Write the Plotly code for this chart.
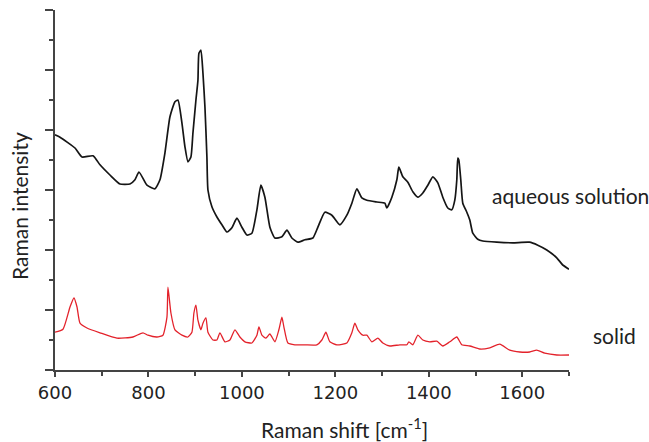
import plotly.graph_objects as go

# Aqueous solution spectrum (black)
aq_shift = [600, 610.7, 642.8, 657.8, 681.3, 696.3, 717.6, 739.0, 760.4, 771.1, 779.7, 796.8,
            813.9, 824.6, 835.3, 846.0, 856.7, 863.1, 871.6, 878.1, 884.5, 890.9, 895.2, 901.6,
            905.9, 908.0, 912.3, 916.6, 920.9, 925.1, 927.3, 935.8, 946.5, 957.2, 967.9, 978.6,
            989.3, 1000.0, 1010.7, 1021.4, 1032.1, 1040.6, 1049.2, 1059.9, 1070.6, 1085.6, 1096.3,
            1106.9, 1119.8, 1134.8, 1151.9, 1162.6, 1177.5, 1192.5, 1209.6, 1224.6, 1235.3, 1246.0,
            1256.7, 1267.4, 1288.8, 1305.9, 1310.2, 1320.9, 1331.6, 1335.8, 1344.4, 1355.1, 1365.8,
            1376.5, 1387.2, 1397.9, 1408.6, 1419.3, 1429.9, 1440.6, 1449.2, 1455.6, 1459.9, 1462.0,
            1464.2, 1468.4, 1472.7, 1481.3, 1487.7, 1494.1, 1504.8, 1515.5, 1545.5, 1579.7, 1615.3,
            1633.2, 1652.4, 1673.8, 1686.6, 1700]
aq_int = [3.92, 3.88, 3.70, 3.55, 3.57, 3.42, 3.25, 3.10, 3.10, 3.17, 3.30, 3.08,
          3.02, 3.17, 3.62, 4.22, 4.47, 4.50, 4.12, 3.72, 3.47, 3.55, 3.95, 4.50,
          4.83, 5.28, 5.33, 4.95, 4.38, 3.55, 3.00, 2.72, 2.55, 2.42, 2.30, 2.37,
          2.53, 2.38, 2.25, 2.28, 2.67, 3.08, 2.88, 2.38, 2.20, 2.22, 2.33,
          2.20, 2.13, 2.17, 2.20, 2.38, 2.63, 2.58, 2.42, 2.58, 2.78, 3.02,
          2.87, 2.83, 2.80, 2.78, 2.70, 2.88, 3.17, 3.38, 3.22, 3.13, 2.97,
          2.88, 2.95, 3.08, 3.22, 3.12, 2.88, 2.70, 2.67, 2.83, 3.17, 3.53,
          3.50, 3.17, 2.78, 2.63, 2.50, 2.28, 2.18, 2.15, 2.13, 2.12, 2.13,
          2.08, 2.00, 1.87, 1.75, 1.68]

# Solid spectrum (red)
solid_shift = [600, 617.1, 632.1, 640.6, 647.1, 653.5, 668.4, 696.3, 732.6, 766.8, 788.2, 798.9,
               818.2, 831.0, 839.6, 841.7, 848.1, 856.7, 871.7, 884.5, 893.0, 897.3, 901.6, 905.9,
               912.3, 916.6, 923.0, 927.3, 938.0, 946.5, 952.9, 963.6, 974.3, 985.0, 995.7, 1006.4,
               1021.4, 1032.1, 1036.4, 1042.8, 1051.3, 1059.9, 1070.6, 1079.1, 1085.6, 1089.8, 1098.4,
               1113.4, 1134.8, 1160.4, 1171.1, 1179.7, 1188.2, 1203.2, 1224.6, 1235.3, 1241.7, 1248.1,
               1258.8, 1267.4, 1278.1, 1290.9, 1301.6, 1316.6, 1338.0, 1353.0, 1357.3, 1365.8, 1376.5,
               1387.2, 1402.1, 1417.1, 1429.9, 1444.9, 1459.9, 1470.6, 1487.7, 1509.1, 1530.5, 1551.9,
               1573.3, 1594.7, 1616.0, 1631.0, 1648.1, 1673.8, 1700]
solid_int = [0.63, 0.68, 1.05, 1.20, 1.05, 0.78, 0.70, 0.62, 0.53, 0.55, 0.62, 0.58,
             0.55, 0.58, 0.88, 1.38, 0.95, 0.67, 0.58, 0.55, 0.63, 0.95, 1.08, 0.83,
             0.67, 0.78, 0.87, 0.63, 0.50, 0.50, 0.62, 0.47, 0.50, 0.67, 0.55, 0.47,
             0.45, 0.58, 0.72, 0.58, 0.53, 0.60, 0.47, 0.67, 0.88, 0.72, 0.45,
             0.42, 0.42, 0.42, 0.50, 0.63, 0.47, 0.42, 0.45, 0.62, 0.78, 0.67,
             0.58, 0.58, 0.47, 0.53, 0.45, 0.40, 0.42, 0.42, 0.47, 0.42, 0.58,
             0.50, 0.47, 0.48, 0.40, 0.47, 0.55, 0.42, 0.40, 0.35, 0.37, 0.43,
             0.33, 0.30, 0.30, 0.33, 0.28, 0.25, 0.25]

x_ticks = [600, 800, 1000, 1200, 1400, 1600]
x_tick_labels = ["600", "800", "1000", "1200", "1400", "1600"]

fig = go.Figure()
fig.add_trace(go.Scatter(x=aq_shift, y=aq_int, mode="lines",
                         line=dict(color="#151515", width=1.7, shape="spline", smoothing=0.5),
                         showlegend=False))
fig.add_trace(go.Scatter(x=solid_shift, y=solid_int, mode="lines",
                         line=dict(color="#e3222b", width=1.3, shape="spline", smoothing=0.5),
                         showlegend=False))

label_font = dict(family="Lato, Open Sans, sans-serif", size=21, color="#222")

fig.add_annotation(text="aqueous solution", xref="paper", yref="paper", x=0.846, y=0.486,
                   xanchor="left", yanchor="middle", showarrow=False, font=label_font)
fig.add_annotation(text="solid", xref="paper", yref="paper", x=1.043, y=0.097,
                   xanchor="left", yanchor="middle", showarrow=False, font=label_font)
fig.add_annotation(text="Raman intensity", xref="paper", yref="paper", x=-0.068, y=0.456,
                   xanchor="center", yanchor="middle", textangle=-90, showarrow=False,
                   font=label_font)
fig.add_annotation(text="Raman shift [cm<sup>-1</sup>]", xref="paper", yref="paper",
                   x=0.564, y=-0.16, xanchor="center", yanchor="middle", showarrow=False,
                   font=label_font)

fig.update_xaxes(range=[600, 1700], tickvals=x_ticks, ticktext=x_tick_labels,
                 showline=True, linecolor="#444", linewidth=2, ticks="outside", ticklen=5,
                 tickwidth=1.5, tickcolor="#444", showgrid=False, zeroline=False,
                 tickfont=dict(family="DejaVu Sans, sans-serif", size=18, color="#222"),
                 minor=dict(dtick=100, ticks="outside", ticklen=4, tickcolor="#444", tickwidth=1.5,
                            showgrid=False))
fig.update_yaxes(range=[0, 6], dtick=1, showticklabels=False,
                 showline=True, linecolor="#444", linewidth=2, ticks="outside", ticklen=8,
                 tickwidth=1.5, tickcolor="#444", showgrid=False, zeroline=False,
                 minor=dict(dtick=0.5, ticks="outside", ticklen=4, tickcolor="#444", tickwidth=1.5,
                            showgrid=False))

fig.update_layout(width=649, height=442, margin=dict(l=55, r=80, t=10, b=72),
                  plot_bgcolor="white", paper_bgcolor="white")

fig.write_html("out.html", config={"displayModeBar": False},
               post_script="document.body.style.margin='0';")
